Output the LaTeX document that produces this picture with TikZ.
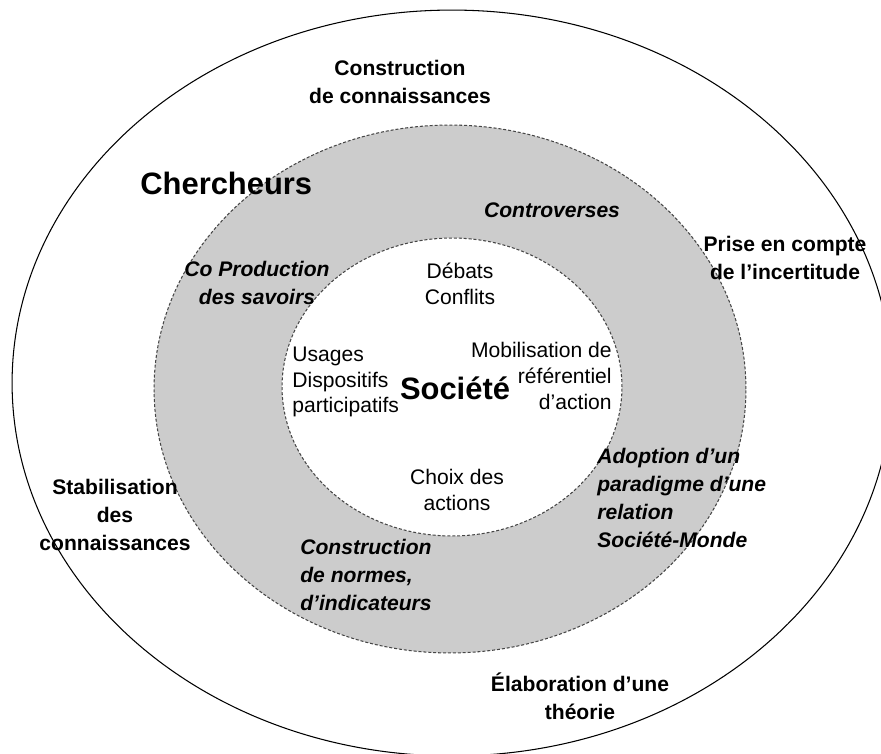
\documentclass[tikz,border=0pt]{standalone}
\usepackage{fontspec}
\setmainfont{Liberation Sans}
\definecolor{ringgray}{RGB}{204,204,204}
\definecolor{edgegray}{RGB}{70,70,70}

\begin{document}
\begin{tikzpicture}[x=0.02cm, y=0.02cm,
    boldlbl/.style={font=\fontsize{12}{15.8}\selectfont\bfseries, align=center, inner sep=0pt},
    ringlbl/.style={font=\fontsize{12}{15.8}\selectfont\bfseries\itshape, inner sep=0pt},
    plainlbl/.style={font=\fontsize{12}{14.6}\selectfont, inner sep=0pt},
    biglbl/.style={font=\fontsize{17.6}{20}\selectfont\bfseries, inner sep=0pt},
    ringedge/.style={draw=edgegray, line width=0.6pt, dash pattern=on 1.7pt off 1.1pt}]
    \useasboundingbox (0,0) rectangle (881,-753);
    \fill[white] (0,0) rectangle (881,-753);
    % three rings
    \draw[line width=0.6pt] (452,-383) ellipse [x radius=8.8cm, y radius=7.46cm];
    \fill[ringgray] (450,-389) ellipse [x radius=5.92cm, y radius=5.28cm];
    \draw[ringedge] (450,-389) ellipse [x radius=5.92cm, y radius=5.28cm];
    \fill[white] (452,-387) ellipse [x radius=3.4cm, y radius=2.98cm];
    \draw[ringedge] (452,-387) ellipse [x radius=3.4cm, y radius=2.98cm];
    % outer ring
    \node[boldlbl] (constr) at (400,-82) {Construction\\de connaissances};
    \node[biglbl, anchor=west] (cherch) at (140,-183) {Chercheurs};
    \node[boldlbl] (prise) at (785,-258) {Prise en compte\\de l’incertitude};
    \node[boldlbl] (stabil) at (115,-515) {Stabilisation\\des\\connaissances};
    \node[boldlbl] (elabor) at (580,-696) {Élaboration d’une\\théorie};
    % grey ring
    \node[ringlbl] (contro) at (552,-210) {Controverses};
    \node[ringlbl, align=center] (coprod) at (257,-283) {Co Production\\des savoirs};
    \node[ringlbl, align=left, anchor=west] (adopt) at (597,-498)
      {Adoption d’un\\paradigme d’une\\relation\\Société-Monde};
    \node[ringlbl, align=left, anchor=west] (normes) at (300,-575)
      {Construction\\de normes,\\d’indicateurs};
    % inner disc
    \node[biglbl] (societe) at (455,-388) {Société};
    \node[plainlbl, align=center] (debats) at (460,-284) {Débats\\Conflits};
    \node[plainlbl, align=left, anchor=west] (usages) at (292,-382)
      {Usages\\Dispositifs\\participatifs};
    \node[plainlbl, align=right, anchor=east] (mobil) at (612,-376)
      {Mobilisation de\\référentiel\\d’action};
    \node[plainlbl, align=center] (choix) at (457,-490) {Choix des\\actions};
\end{tikzpicture}
\end{document}
